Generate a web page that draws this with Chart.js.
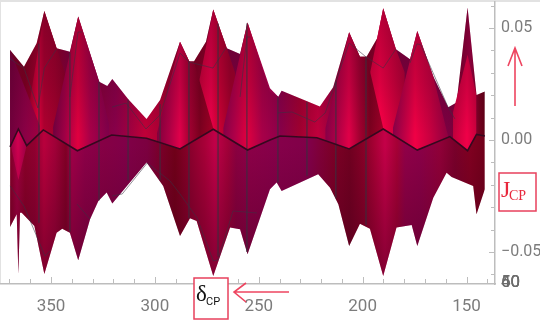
<!DOCTYPE html>
<html>
<head>
<meta charset="utf-8">
<title>JCP vs deltaCP</title>
<script src="https://cdn.jsdelivr.net/npm/chart.js@4"></script>
<style>
  html, body { margin: 0; padding: 0; background: #fff; }
  #chart { display: block; filter: blur(0.35px); }
</style>
</head>
<body>
<canvas id="chart" width="540" height="322"></canvas>
<script>
// outer outline of the surface and the dark centre curve
const upperDelta = [369.7, 363, 356.9, 353.2, 347.3, 340.9, 336.9, 326.8, 322.9, 320.5, 312.8, 304, 297.5, 287.9, 283.4, 281.2, 275.4, 271.9, 265.4, 259, 255.4, 244.6, 240.6, 239, 220.6, 214.2, 206.5, 201.3, 198.1, 193, 190.1, 184, 177.2, 173.7, 166, 158.8, 154.8, 149.5, 145.2, 141.2];
const upperJ = [0.0402, 0.0327, 0.0432, 0.0576, 0.0409, 0.0394, 0.0551, 0.026, 0.0241, 0.0272, 0.0182, 0.0094, 0.0179, 0.0439, 0.035, 0.035, 0.0439, 0.0583, 0.0409, 0.0384, 0.0524, 0.0215, 0.0193, 0.022, 0.0149, 0.0235, 0.0481, 0.0372, 0.0372, 0.0454, 0.0588, 0.0405, 0.036, 0.0487, 0.0283, 0.0146, 0.0167, 0.0592, 0.0201, 0.0216];

const lowerDelta = [369.7, 366.5, 365.7, 364.9, 364.1, 358, 353.2, 347.3, 344.6, 340.9, 336.9, 331.2, 327.2, 323.2, 320.5, 304, 296, 287.9, 283.1, 279.9, 271.9, 263.8, 259, 255.4, 244.6, 241.4, 239, 221.4, 215.7, 211.7, 206.5, 201.3, 196.5, 190.1, 183.7, 176.4, 173.7, 166, 159.6, 157.2, 146.8, 145.2, 141.2];
const lowerJ = [-0.0388, -0.0332, -0.0598, -0.0325, -0.0325, -0.0384, -0.0598, -0.0414, -0.0396, -0.0414, -0.0537, -0.0354, -0.0272, -0.0235, -0.0284, -0.0101, -0.0205, -0.0429, -0.035, -0.0362, -0.0607, -0.0391, -0.0399, -0.051, -0.022, -0.019, -0.0228, -0.0153, -0.0213, -0.0287, -0.0473, -0.0374, -0.0396, -0.0607, -0.0391, -0.038, -0.0473, -0.0258, -0.0146, -0.0165, -0.0205, -0.0332, -0.022];

const midDelta = [369.7, 365.7, 361.7, 353.7, 337.3, 320.8, 304, 287.9, 271.9, 255.4, 244.6, 239.8, 222, 206.5, 190.1, 173.7, 158, 149.5, 145.2, 141.2];
const midJ = [-0.0031, 0.0049, -0.0025, 0.0045, -0.0048, 0.0022, 0.0008, -0.004, 0.0048, -0.0045, 0, 0.0018, 0.001, -0.004, 0.0049, -0.0045, 0.0015, -0.0048, 0.0025, 0.0018];

// inner sheets of the surface
const sheetA1Delta = [360.1, 353.2, 347.3, 343.3];
const sheetA1J = [0.0179, 0.0576, 0.0411, 0.03];
const sheetA2Delta = [279.3, 271.9, 265.4, 261.4];
const sheetA2J = [0.0232, 0.0583, 0.0411, 0.03];
const sheetA3Delta = [197.4, 190.1, 184, 179.7];
const sheetA3J = [0.0254, 0.0588, 0.0406, 0.03];

const sheetB1Delta = [369.7, 355.3];
const sheetB1J = [0.0402, 0.0062];
const sheetB2Delta = [299, 287.9, 283.4, 281.2, 271.9];
const sheetB2J = [0.003, 0.0439, 0.035, 0.035, 0.0052];
const sheetB3Delta = [218, 206.5, 201.3, 198.1, 190.1];
const sheetB3J = [0.005, 0.0481, 0.0372, 0.0372, 0.0054];

const sheetC1Delta = [349, 336.9, 326.8, 322];
const sheetC1J = [0.0058, 0.0551, 0.026, 0.0067];
const sheetC2Delta = [267.1, 255.4, 244.6, 240.6, 239.8];
const sheetC2J = [0.0052, 0.0524, 0.0231, 0.0193, 0.0018];
const sheetC3Delta = [185.4, 173.7, 166, 158.9];
const sheetC3J = [0.0054, 0.0487, 0.0283, 0.0018];

const sheetDDelta = [156.5, 149.5, 145.2];
const sheetDJ = [0.0125, 0.038, 0.02];

const sheetEDelta = [369.2, 365.7, 361.7];
const sheetEJ = [-0.0031, -0.0179, -0.0025];

// mesh lines
const meshDelta = [355.8, 340.9, 326.9, 312.9, 297.5, 283.6, 269.6, 255.7, 240.8, 226.8, 212.9, 198.4, 184, 170, 157];
const meshTop = [0.043, 0.039, 0.026, 0.018, 0.016, 0.035, 0.052, 0.052, 0.019, 0.017, 0.026, 0.037, 0.04, 0.038, 0.014];
const meshBottom = [-0.037, -0.041, -0.027, -0.018, -0.018, -0.035, -0.052, -0.05, -0.019, -0.016, -0.026, -0.038, -0.039, -0.036, -0.016];

const wireUpDelta = [369.7, 363, 356.3, 353.2, 347.3, null, 340.9, 337, 335, null, 320.6, 313.9, 304.3, 297.5, 287.9, 283.6, 272, 265.8, null, 259, 255.7, 254.2, null, 240.8, 234, 223, 218, 206.5, 198.4, 190.1, 184, null, 177.2, 173.9, 172, 158.9, 155.6, null, 144.5, 141.2];
const wireUpJ = [0.0362, 0.0321, 0.0143, 0.0321, 0.0406, null, 0.0192, 0.0482, 0.0482, null, 0.0147, 0.0165, 0.0049, 0.0112, 0.0388, 0.0348, 0.0321, 0.0411, null, 0.0192, 0.046, 0.046, null, 0.0121, 0.0125, 0.008, 0.0121, 0.0433, 0.0371, 0.0321, 0.0406, null, 0.0344, 0.0429, 0.0425, 0.0147, 0.0094, null, 0.0098, 0.0112];
const wireLowDelta = [369.7, 363, 352.9, 350.5, null, 337.5, 331.2, null, 320.5, 315.7, 303.7, 292.7, 287.9, 279.7, 271.9, 269.6, 262.4, 250.9, null, 241.2, 236.4, 221.5, null, 207.1, 198.4, 190.1, 188.3, 184, 173.9, 167.6, 159.5];
const wireLowJ = [-0.0205, -0.0295, -0.0518, -0.0495, null, -0.0286, -0.0353, null, -0.025, -0.0241, -0.0103, -0.0183, -0.0241, -0.0348, -0.054, -0.0535, -0.0317, -0.0326, null, -0.0183, -0.0196, -0.0152, null, -0.025, -0.0371, -0.0527, -0.053, -0.0393, -0.025, -0.0308, -0.0152];

const cornerLabels = ['40', '50', '60'];

const gray = '#7c7c7c';
const axisGray = '#bdbdbd';
const narrow = '"Liberation Sans Narrow", "Roboto", sans-serif';

const canvas = document.getElementById('chart');
const ctx = canvas.getContext('2d');

// colour bands run left to right across the canvas: [pixel x, colour]
function band(stops) {
  const g = ctx.createLinearGradient(0, 0, 540, 0);
  stops.forEach(s => g.addColorStop(s[0] / 540, s[1]));
  return g;
}

const upperBand = band([[10, '#7a0028'], [25, '#7c0020'], [37, '#a0002a'], [44, '#8c0020'], [57, '#90002c'], [70, '#800040'], [100, '#85003c'], [115, '#88004a'], [130, '#a00040'], [145, '#c00038'], [157, '#b00035'], [190, '#7a0020'], [205, '#8a0025'], [230, '#7e0040'], [262, '#840048'], [280, '#86004a'], [300, '#a00030'], [318, '#c0003c'], [330, '#a00040'], [360, '#700020'], [376, '#90002a'], [400, '#800040'], [430, '#800045'], [450, '#7a0040'], [460, '#800030'], [470, '#a00045'], [480, '#70001c'], [485, '#600015']]);
const lowerBand = band([[10, '#800025'], [17, '#a00040'], [25, '#8a0028'], [35, '#900030'], [44, '#b8003c'], [55, '#a00038'], [66, '#800025'], [72, '#a00048'], [85, '#8c0048'], [105, '#850045'], [125, '#800048'], [147, '#7c0040'], [160, '#7a002a'], [175, '#700018'], [190, '#8a002c'], [205, '#a80038'], [215, '#c00048'], [228, '#a00038'], [236, '#8a0040'], [250, '#8c0048'], [280, '#85004a'], [310, '#800048'], [320, '#800038'], [335, '#7c0025'], [350, '#700020'], [365, '#8a0028'], [375, '#a80035'], [385, '#c40048'], [397, '#a50035'], [405, '#900048'], [420, '#8a0048'], [440, '#900038'], [455, '#78002a'], [470, '#800020'], [485, '#70001a']]);

const a1Band = band([[30, '#a0002a'], [38, '#e0003c'], [44, '#b00030'], [55, '#a0002c'], [65, '#8a0028']]);
const a2Band = band([[198, '#c00038'], [205, '#e00040'], [211, '#f0004a'], [218, '#d00035'], [230, '#a0002a']]);
const a3Band = band([[368, '#d8003c'], [380, '#ff0048'], [390, '#e00040'], [405, '#b00035']]);
const b1Band = band([[10, '#70003c'], [25, '#8a0045'], [40, '#a00040']]);
const b2Band = band([[157, '#80003c'], [170, '#b00045'], [180, '#e0004a'], [190, '#a00030'], [200, '#7a001e'], [213, '#a00025']]);
const b3Band = band([[325, '#850048'], [338, '#b00045'], [349, '#e00048'], [360, '#a00030'], [370, '#7a001e'], [383, '#a00028']]);
const c1Band = band([[53, '#70003f'], [65, '#a00045'], [78, '#e0003f'], [90, '#a80048'], [108, '#80004a']]);
const c2Band = band([[223, '#850048'], [235, '#b00048'], [247, '#e0003f'], [262, '#a80048'], [278, '#90004a']]);
const c3Band = band([[393, '#880048'], [405, '#c00045'], [415, '#f00045'], [430, '#c80040'], [447, '#900040']]);
const dBand = band([[453, '#c0003c'], [467, '#f00048'], [477, '#c8003c']]);
const eBand = band([[11, '#a00045'], [18, '#d00050'], [26, '#a00045']]);

// the surface darkens away from the centre curve
const shadeUp = ctx.createLinearGradient(0, 5, 0, 135);
shadeUp.addColorStop(0, 'rgba(70,0,30,0.4)');
shadeUp.addColorStop(0.6, 'rgba(70,0,30,0.2)');
shadeUp.addColorStop(1, 'rgba(70,0,30,0)');
const shadeLow = ctx.createLinearGradient(0, 145, 0, 276);
shadeLow.addColorStop(0, 'rgba(70,0,30,0)');
shadeLow.addColorStop(0.5, 'rgba(70,0,30,0.25)');
shadeLow.addColorStop(1, 'rgba(70,0,30,0.5)');

function points(xs, ys) {
  return xs.map((x, i) => ({ x: x === null ? NaN : x, y: ys[i] === null ? NaN : ys[i] }));
}

// every sheet fills against the centre curve, which is dataset 0
function sheet(xs, ys, colour, order) {
  return {
    data: points(xs, ys),
    borderWidth: 0,
    pointRadius: 0,
    order: order,
    fill: { target: 0, above: colour, below: colour }
  };
}

function wire(data, alpha, order) {
  return {
    data: data,
    borderColor: 'rgba(58,50,66,' + alpha + ')',
    borderWidth: 1,
    pointRadius: 0,
    order: order,
    fill: false
  };
}

const meshPoints = [];
meshDelta.forEach((d, i) => {
  meshPoints.push({ x: d, y: meshTop[i] }, { x: d, y: meshBottom[i] }, { x: NaN, y: NaN });
});

const datasets = [
  { data: points(midDelta, midJ), borderColor: '#35081f', borderWidth: 1.6, pointRadius: 0, order: 0, fill: false },
  sheet(upperDelta, upperJ, upperBand, 10),
  sheet(lowerDelta, lowerJ, lowerBand, 9),
  sheet(sheetA1Delta, sheetA1J, a1Band, 8),
  sheet(sheetA2Delta, sheetA2J, a2Band, 8),
  sheet(sheetA3Delta, sheetA3J, a3Band, 8),
  sheet(sheetB1Delta, sheetB1J, b1Band, 7),
  sheet(sheetB2Delta, sheetB2J, b2Band, 7),
  sheet(sheetB3Delta, sheetB3J, b3Band, 7),
  sheet(sheetC1Delta, sheetC1J, c1Band, 6),
  sheet(sheetC2Delta, sheetC2J, c2Band, 6),
  sheet(sheetC3Delta, sheetC3J, c3Band, 6),
  sheet(sheetDDelta, sheetDJ, dBand, 5),
  sheet(sheetEDelta, sheetEJ, eBand, 5),
  sheet(upperDelta, upperJ, shadeUp, 4),
  sheet(lowerDelta, lowerJ, shadeLow, 4),
  wire(meshPoints, 0.4, 2),
  wire(points(wireUpDelta, wireUpJ), 0.55, 2),
  wire(points(wireLowDelta, wireLowJ), 0.55, 2)
];

// inward ticks, page edges and the hand-drawn red notes
const decorations = {
  id: 'decorations',
  beforeDraw(chart) {
    const c = chart.ctx;
    c.save();
    c.fillStyle = '#fff';
    c.fillRect(0, 0, 540, 322);
    c.fillStyle = '#e2e2e2';
    c.fillRect(0, 0, 540, 2);
    c.fillRect(0, 0, 1, 284);
    c.restore();
  },
  afterDraw(chart) {
    const c = chart.ctx;
    const { x, y } = chart.scales;
    const area = chart.chartArea;
    c.save();

    c.strokeStyle = axisGray;
    c.lineWidth = 1;
    x.ticks.forEach(t => {
      const px = Math.round(x.getPixelForValue(t.value)) + 0.5;
      const len = t.value % 50 === 0 ? 7 : 5;
      c.beginPath();
      c.moveTo(px, area.bottom);
      c.lineTo(px, area.bottom - len);
      c.stroke();
    });
    y.ticks.forEach(t => {
      const py = Math.round(y.getPixelForValue(t.value)) + 0.5;
      const major = Math.abs(Math.round(t.value * 100)) % 5 === 0;
      c.beginPath();
      c.moveTo(area.right, py);
      c.lineTo(area.right - (major ? 6 : 4), py);
      c.stroke();
    });

    // labels of the third axis that collapsed into the corner
    c.fillStyle = '#6c6c6c';
    c.font = '17px ' + narrow;
    c.textBaseline = 'middle';
    c.textAlign = 'left';
    cornerLabels.forEach(l => c.fillText(l, 501, 283));

    // delta box
    c.fillStyle = '#fff';
    c.fillRect(194, 278, 34, 41);
    c.strokeStyle = '#e8405c';
    c.lineWidth = 1.5;
    c.strokeRect(194, 278, 34, 41);
    c.fillStyle = '#111';
    c.textBaseline = 'alphabetic';
    c.font = '23px "Liberation Serif", serif';
    c.fillText('δ', 196, 301);
    c.font = '11px ' + narrow;
    c.fillText('CP', 206, 305);

    // J box
    c.fillStyle = '#fff';
    c.fillRect(499, 173, 37, 38);
    c.strokeRect(499, 173, 37, 38);
    c.fillStyle = '#e8283c';
    c.font = '24px "Liberation Serif", serif';
    c.fillText('J', 501, 197);
    c.font = '14px "Liberation Serif", serif';
    c.fillText('CP', 509, 200);

    // arrows
    c.strokeStyle = '#ee4560';
    c.lineWidth = 1.6;
    c.beginPath();
    c.moveTo(515, 106);
    c.lineTo(515, 48);
    c.moveTo(508, 66);
    c.lineTo(515, 48);
    c.lineTo(522, 66);
    c.moveTo(289, 292);
    c.lineTo(234, 292);
    c.moveTo(246, 283);
    c.lineTo(234, 292);
    c.lineTo(246, 302);
    c.stroke();

    c.restore();
  }
};

// no room kept for label overhang: the plot box is fixed
function noOverhang(s) {
  s.paddingLeft = s.paddingRight = s.paddingTop = s.paddingBottom = 0;
}

new Chart(ctx, {
  type: 'line',
  data: { datasets: datasets },
  plugins: [decorations],
  options: {
    responsive: false,
    animation: false,
    parsing: false,
    normalized: false,
    events: [],
    elements: { line: { tension: 0 } },
    layout: { padding: { left: 1, top: 2, right: 0, bottom: 0 } },
    plugins: {
      legend: { display: false },
      tooltip: { enabled: false }
    },
    scales: {
      x: {
        type: 'linear',
        reverse: true,
        min: 136.3,
        max: 374.06,
        afterFit: s => { s.height = 38; noOverhang(s); },
        border: { color: axisGray, width: 1.5 },
        grid: { display: false, drawTicks: false },
        ticks: {
          stepSize: 10,
          includeBounds: false,
          autoSkip: false,
          maxRotation: 0,
          padding: 13,
          color: gray,
          font: { family: narrow, size: 17 },
          callback: v => (v % 50 === 0 ? String(v) : '')
        }
      },
      y: {
        position: 'right',
        min: -0.0643,
        max: 0.0616,
        afterFit: s => { s.width = 45; noOverhang(s); },
        border: { color: axisGray, width: 1.5 },
        grid: { display: false, drawTicks: false },
        ticks: {
          stepSize: 0.01,
          includeBounds: false,
          autoSkip: false,
          padding: 6,
          color: gray,
          font: { family: narrow, size: 16 },
          callback: v => {
            const n = Math.round(v * 100);
            if (n % 5 !== 0) return '';
            return (n < 0 ? '\u2212' : '') + (Math.abs(n) / 100).toFixed(2);
          }
        }
      }
    }
  }
});
</script>
</body>
</html>
